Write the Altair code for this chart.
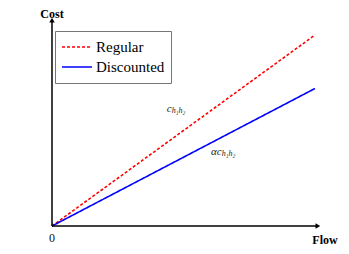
import altair as alt
import pandas as pd

series = ["Regular", "Discounted"]
flow = [0, 10]
regular_cost = [0, 10]
discounted_cost = [0, 7.2]
colors = ["#ff0000", "#0000ff"]

ann_main = ["c", "αc"]
ann_sub = ["h₁h₂", "h₁h₂"]
ann_x = [4.55, 6.45]
ann_y = [6.1, 3.85]

rows = []
for f, r, d in zip(flow, regular_cost, discounted_cost):
    rows.append({"Flow": f, "Cost": r, "series": series[0]})
    rows.append({"Flow": f, "Cost": d, "series": series[1]})
df = pd.DataFrame(rows)

xs = alt.Scale(domain=[-1.673, 10.989], nice=False, zero=False)
ys = alt.Scale(domain=[-1.047, 11.414], nice=False, zero=False)

SERIF = "Liberation Serif"

lines = alt.Chart(df).mark_line(strokeWidth=1.6).encode(
    x=alt.X("Flow:Q", scale=xs, axis=None),
    y=alt.Y("Cost:Q", scale=ys, axis=None),
    color=alt.Color("series:N", scale=alt.Scale(domain=series, range=colors), title=None,
                    legend=alt.Legend(orient="none", legendX=47, legendY=23)),
    strokeDash=alt.StrokeDash("series:N", scale=alt.Scale(domain=series, range=[[3, 2], [1, 0]]), title=None,
                              legend=alt.Legend(orient="none", legendX=47, legendY=23)),
)

axes_df = pd.DataFrame({"x1": [0, 0], "y1": [0, 0], "x2": [10.11, 0], "y2": [0, 10.785]})
axes = alt.Chart(axes_df).mark_rule(color="black", strokeWidth=1.5).encode(
    x=alt.X("x1:Q", scale=xs, axis=None), y=alt.Y("y1:Q", scale=ys, axis=None),
    x2="x2:Q", y2="y2:Q")

arrow_df = pd.DataFrame({"x": [10.11, 0], "y": [0, 10.785], "shape": ["triangle-right", "triangle-up"]})
arrows = alt.Chart(arrow_df).mark_point(filled=True, color="black", size=30, opacity=1).encode(
    x=alt.X("x:Q", scale=xs, axis=None), y=alt.Y("y:Q", scale=ys, axis=None),
    shape=alt.Shape("shape:N", scale=None))

lab_df = pd.DataFrame({"x": [0, 10.38], "y": [11.1, -0.73], "t": ["Cost", "Flow"]})
labels = alt.Chart(lab_df).mark_text(font=SERIF, fontWeight="bold", fontSize=12, color="black").encode(
    x=alt.X("x:Q", scale=xs, axis=None), y=alt.Y("y:Q", scale=ys, axis=None), text="t:N")

zero_df = pd.DataFrame({"x": [0], "y": [-0.65], "t": ["0"]})
zero = alt.Chart(zero_df).mark_text(font=SERIF, fontSize=12, color="#111111").encode(
    x=alt.X("x:Q", scale=xs, axis=None), y=alt.Y("y:Q", scale=ys, axis=None), text="t:N")

ann_df = pd.DataFrame({"x": ann_x, "y": ann_y, "m": ann_main, "s": ann_sub})
ann_m = alt.Chart(ann_df).mark_text(font=SERIF, fontStyle="italic", fontSize=11, color="#222222", align="right").encode(
    x=alt.X("x:Q", scale=xs, axis=None), y=alt.Y("y:Q", scale=ys, axis=None), text="m:N")
ann_s = alt.Chart(ann_df).mark_text(font=SERIF, fontStyle="italic", fontSize=8, color="#222222", align="left", dy=2).encode(
    x=alt.X("x:Q", scale=xs, axis=None), y=alt.Y("y:Q", scale=ys, axis=None), text="s:N")

chart = alt.layer(lines, axes, arrows, labels, zero, ann_m, ann_s).properties(
    width=333, height=238, autosize=alt.AutoSizeParams(type="none"), padding=0
).configure_view(stroke=None).configure_legend(
    symbolType="stroke", symbolSize=900, clipHeight=20, symbolStrokeWidth=1.6,
    labelFont=SERIF, labelFontSize=15, labelColor="black",
    strokeColor="#777777", fillColor="white", padding=6,
    labelOffset=3, rowPadding=0, cornerRadius=0
)

chart.save("out.html", embed_options={"renderer": "svg", "actions": False})
